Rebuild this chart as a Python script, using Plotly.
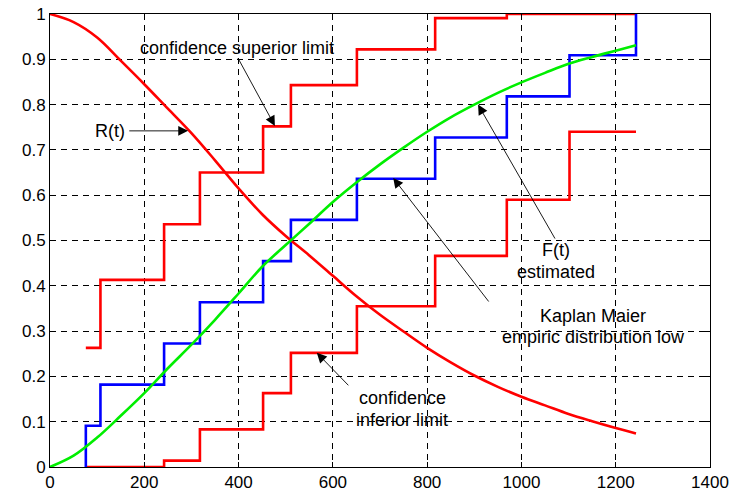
import plotly.graph_objects as go

# Smooth curves
t_curve = [0, 50, 100, 150, 200, 250, 300, 350, 400, 450, 500, 550, 600, 650,
           700, 750, 800, 850, 900, 950, 1000, 1050, 1100, 1150, 1200, 1243]
R_values = [1.000, 0.982, 0.948, 0.897, 0.845, 0.791, 0.737, 0.677, 0.615, 0.558,
            0.510, 0.467, 0.422, 0.377, 0.336, 0.299, 0.263, 0.231, 0.202, 0.177,
            0.155, 0.136, 0.117, 0.101, 0.086, 0.074]
F_values = [0.000, 0.025, 0.065, 0.113, 0.163, 0.218, 0.270, 0.325, 0.383, 0.442,
            0.490, 0.537, 0.585, 0.628, 0.668, 0.705, 0.740, 0.772, 0.800, 0.826,
            0.849, 0.870, 0.890, 0.905, 0.919, 0.931]

# Step functions
step_times = [76, 107, 242, 318, 452, 511, 651, 817, 969, 1102, 1243]
km_values = [0.0909, 0.1818, 0.2727, 0.3636, 0.4545, 0.5455, 0.6364, 0.7273,
             0.8182, 0.9091, 1.0]
km_start = 0.0
upper_values = [0.263, 0.413, 0.536, 0.650, 0.752, 0.843, 0.922, 0.991, 1.0, 1.0, 1.0]
lower_values = [0.0, 0.0, 0.014, 0.083, 0.163, 0.252, 0.355, 0.466, 0.590, 0.740, 0.740]

x_ticks = [0, 200, 400, 600, 800, 1000, 1200, 1400]
y_ticks = [0, 0.1, 0.2, 0.3, 0.4, 0.5, 0.6, 0.7, 0.8, 0.9, 1]
y_tick_labels = ["0", "0.1", "0.2", "0.3", "0.4", "0.5", "0.6", "0.7", "0.8", "0.9", "1"]

RED = "#ff0000"
BLUE = "#0000ff"
GREEN = "#00ee00"
LW = 2.6

fig = go.Figure()
fig.add_trace(go.Scatter(x=step_times, y=upper_values, mode="lines", line_shape="hv",
                         line=dict(color=RED, width=LW)))
fig.add_trace(go.Scatter(x=step_times, y=lower_values, mode="lines", line_shape="hv",
                         line=dict(color=RED, width=LW)))
fig.add_trace(go.Scatter(x=[step_times[0]] + step_times, y=[km_start] + km_values,
                         mode="lines", line_shape="hv",
                         line=dict(color=BLUE, width=LW)))
fig.add_trace(go.Scatter(x=t_curve, y=R_values, mode="lines", line_shape="spline",
                         line=dict(color=RED, width=LW, smoothing=1.0)))
fig.add_trace(go.Scatter(x=t_curve, y=F_values, mode="lines", line_shape="spline",
                         line=dict(color=GREEN, width=LW, smoothing=1.0)))

FONT = "Liberation Sans, Arial, sans-serif"
afont = dict(family=FONT, size=18, color="black")

texts = [
    ("confidence superior limit", 397, 0.926),
    ("R(t)", 127, 0.742),
    ("F(t)", 1073, 0.479),
    ("estimated", 1073, 0.431),
    ("Kaplan Maier", 1152, 0.334),
    ("empiric distribution low", 1152, 0.287),
    ("confidence", 747, 0.152),
    ("inferior limit", 747, 0.104),
]
for txt, x, y in texts:
    fig.add_annotation(x=x, y=y, text=txt, showarrow=False, font=afont,
                       xanchor="center", yanchor="middle")

arrows = [  # head x, head y, tail x, tail y
    (477, 0.753, 397, 0.906),
    (293, 0.742, 165, 0.742),
    (908, 0.800, 1073, 0.501),
    (728, 0.638, 933, 0.362),
    (566, 0.252, 636, 0.177),
]
for hx, hy, tx, ty in arrows:
    fig.add_annotation(x=hx, y=hy, ax=tx, ay=ty, axref="x", ayref="y", xref="x", yref="y",
                       text="", showarrow=True, arrowhead=2, arrowsize=2.2,
                       arrowwidth=0.9, arrowcolor="black", standoff=0, startstandoff=0)

axis_common = dict(showline=True, linecolor="black", linewidth=1, mirror="ticks",
                   ticks="inside", ticklen=5, tickcolor="black", automargin=False,
                   showgrid=True, gridcolor="black", gridwidth=0.8, griddash="6px,5px",
                   zeroline=False, tickfont=dict(family=FONT, size=17, color="black"))

fig.update_xaxes(range=[0, 1400], tickvals=x_ticks, **axis_common)
fig.update_yaxes(range=[0, 1], tickvals=y_ticks, ticktext=y_tick_labels, **axis_common)

fig.update_layout(width=733, height=493, showlegend=False,
                  margin=dict(l=50, r=23, t=14, b=26),
                  plot_bgcolor="white", paper_bgcolor="white",
                  font=dict(family=FONT, color="black"))

fig.write_html("out.html", config={"displayModeBar": False},
               post_script="document.body.style.margin='0';document.body.style.overflow='hidden';")
